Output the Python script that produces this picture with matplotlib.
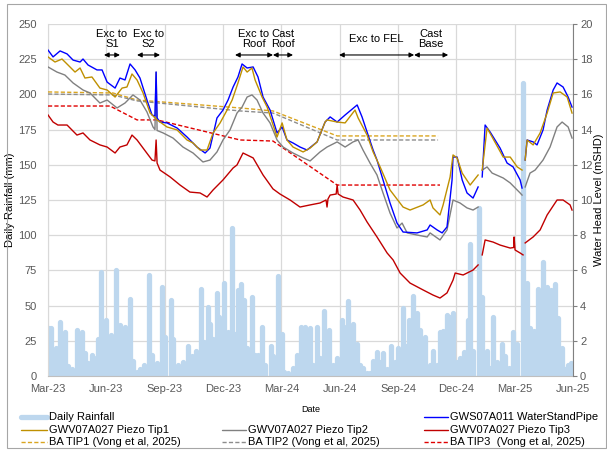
import numpy as np
import matplotlib
matplotlib.use("Agg")
import matplotlib.pyplot as plt
from matplotlib.lines import Line2D
from matplotlib.patches import Rectangle

plt.rcParams["font.family"] = ["Liberation Sans", "DejaVu Sans"]

nan = np.nan

# x positions are months since 1 Mar 2023
tick_labels = ["Mar-23", "Jun-23", "Sep-23", "Dec-23", "Mar-24", "Jun-24",
               "Sep-24", "Dec-24", "Mar-25", "Jun-25"]

# daily rainfall (mm)
rain_pts = [
    (0.05, 34), (0.15, 34), (0.41, 20), (0.62, 38), (0.87, 31), (1.03, 7), (1.23, 5), (1.49, 33),
    (1.75, 31), (1.90, 16), (2.06, 9), (2.26, 15), (2.47, 13), (2.57, 26), (2.73, 74), (2.98, 40),
    (3.24, 29), (3.50, 75), (3.70, 36), (3.96, 35), (4.22, 55), (4.37, 11), (4.58, 3), (4.73, 5),
    (4.94, 8), (5.20, 72), (5.35, 15), (5.61, 9), (5.86, 63), (6.02, 28), (6.33, 54), (6.43, 26),
    (6.69, 8), (6.94, 10), (7.20, 21), (7.41, 14), (7.61, 18), (7.87, 62), (8.02, 24), (8.23, 49),
    (8.33, 37), (8.49, 26), (8.69, 59), (8.80, 42), (9.05, 66), (9.26, 31), (9.47, 105), (9.62, 30),
    (9.77, 61), (9.93, 65), (10.08, 54), (10.24, 20), (10.49, 56), (10.65, 15), (10.80, 15),
    (11.01, 35), (11.16, 8), (11.47, 21), (11.57, 14), (11.83, 71), (12.04, 30), (12.14, 3),
    (12.35, 2), (12.60, 6), (12.81, 15), (13.01, 35), (13.22, 35), (13.48, 34), (13.63, 8),
    (13.84, 35), (13.99, 13), (14.20, 46), (14.35, 20), (14.45, 33), (14.66, 8), (14.87, 13),
    (15.12, 40), (15.23, 35), (15.43, 53), (15.69, 37), (15.90, 23), (16.05, 8), (16.20, 6),
    (16.41, 2), (16.56, 2), (16.72, 11), (16.92, 17), (17.08, 10), (17.23, 16), (17.44, 5),
    (17.64, 21), (17.85, 10), (18.00, 20), (18.26, 48), (18.42, 21), (18.57, 40), (18.78, 57),
    (18.98, 45), (19.14, 33), (19.39, 28), (19.65, 8), (19.80, 18), (20.01, 8), (20.16, 31),
    (20.32, 32), (20.52, 43), (20.68, 42), (20.83, 45), (21.04, 10), (21.19, 13), (21.40, 17),
    (21.60, 40), (21.71, 94), (21.86, 18), (22.17, 119), (22.33, 56), (22.58, 18), (22.74, 6),
    (22.89, 42), (23.10, 10), (23.35, 23), (23.51, 14), (23.71, 6), (23.92, 31), (24.13, 23),
    (24.43, 208), (24.64, 66), (24.79, 34), (25.00, 32), (25.21, 62), (25.46, 81), (25.67, 63),
    (25.87, 61), (26.08, 65), (26.23, 41), (26.44, 20), (26.59, 5), (26.75, 8), (26.90, 9),
]

# water head levels (mSHD)
wsp_pts = [
    (0.00, 18.52), (0.26, 18.13), (0.62, 18.47), (0.98, 18.30), (1.29, 17.95), (1.65, 17.84),
    (1.80, 18.01), (2.06, 17.67), (2.52, 17.39), (2.78, 17.39), (3.04, 16.70), (3.45, 16.36),
    (3.70, 16.93), (3.96, 16.82), (4.22, 17.73), (4.48, 17.39), (4.73, 16.93), (5.09, 15.68),
    (5.35, 14.83), (5.50, 14.77), (5.56, 17.27), (5.61, 14.66), (5.76, 14.43), (6.12, 14.38),
    (6.64, 14.09), (7.15, 13.58), (7.66, 13.01), (8.08, 12.67), (8.33, 12.95), (8.69, 14.66),
    (9.00, 15.11), (9.26, 15.68), (9.52, 16.42), (9.77, 16.99), (9.98, 17.73), (10.24, 17.50),
    (10.55, 17.56), (10.80, 16.99), (11.06, 15.85), (11.42, 15.11), (11.78, 13.81), (12.04, 14.15),
    (12.29, 13.41), (12.60, 13.24), (12.96, 13.01), (13.32, 12.84), (13.84, 13.30), (14.25, 14.43),
    (14.51, 14.72), (14.87, 14.43), (15.28, 14.83), (15.90, 15.40), (16.15, 14.72), (16.41, 13.86),
    (16.72, 12.84), (16.92, 12.27), (17.23, 11.14), (17.59, 9.83), (17.95, 8.69), (18.26, 8.18),
    (18.98, 8.13), (19.50, 8.30), (19.65, 8.58), (20.01, 8.30), (20.27, 8.13), (20.52, 8.47),
    (20.78, 11.14), (20.83, 12.44), (21.04, 12.44), (21.30, 11.14), (21.55, 10.40), (21.86, 10.11),
    (22.12, 10.74), (22.22, nan), (22.33, 11.31), (22.48, 14.26), (22.74, 13.86), (23.25, 12.95),
    (23.61, 12.10), (23.92, 11.88), (24.28, 11.14), (24.38, 10.68), (24.46, nan), (24.54, 12.27),
    (24.64, 13.41), (24.95, 13.30), (25.15, 13.13), (25.46, 13.98), (25.67, 15.11), (25.98, 16.25),
    (26.18, 16.65), (26.49, 16.42), (26.75, 15.85), (26.95, 15.28),
]

tip1_pts = [
    (0.00, 18.13), (0.36, 17.84), (0.72, 18.01), (1.03, 17.67), (1.39, 17.27), (1.65, 17.50),
    (1.90, 16.93), (2.26, 16.99), (2.67, 16.36), (3.04, 16.25), (3.45, 15.85), (3.81, 16.36),
    (4.06, 16.42), (4.32, 17.16), (4.58, 16.82), (4.89, 16.08), (5.25, 14.94), (5.61, 14.55),
    (6.12, 14.15), (6.64, 13.98), (7.15, 13.41), (7.46, 13.24), (7.82, 12.84), (8.18, 12.84),
    (8.49, 13.81), (8.85, 14.38), (9.21, 15.11), (9.47, 15.68), (9.77, 16.65), (10.03, 17.56),
    (10.24, 17.27), (10.49, 17.50), (10.65, 16.82), (11.01, 15.85), (11.27, 15.28), (11.78, 13.58),
    (12.04, 14.38), (12.29, 13.41), (12.60, 13.01), (13.12, 12.73), (13.48, 12.95), (13.84, 13.30),
    (14.25, 14.43), (14.35, 14.55), (14.87, 14.43), (15.28, 14.38), (15.79, 15.11), (15.95, 14.66),
    (16.41, 13.69), (16.72, 12.73), (17.08, 11.88), (17.59, 10.57), (18.26, 9.60), (18.62, 9.43),
    (19.29, 9.72), (19.65, 10.00), (19.80, 9.55), (20.16, 9.15), (20.32, 9.72), (20.68, 11.31),
    (20.83, 12.56), (21.04, 12.39), (21.30, 11.53), (21.71, 10.85), (22.12, 11.42), (22.22, nan),
    (22.33, 11.70), (22.58, 14.09), (22.84, 13.58), (23.41, 12.44), (23.77, 12.44), (24.13, 11.88),
    (24.38, 11.70), (24.46, nan), (24.54, 12.27), (24.64, 13.41), (24.95, 13.13), (25.31, 13.81),
    (25.67, 14.94), (25.98, 16.08), (26.34, 16.14), (26.70, 15.85), (26.95, 14.94),
]

tip2_pts = [
    (0.00, 17.56), (0.46, 17.27), (0.87, 17.10), (1.29, 16.65), (1.80, 16.25), (2.16, 16.08),
    (2.67, 15.51), (3.04, 15.68), (3.55, 15.23), (3.96, 15.51), (4.37, 15.97), (4.73, 15.68),
    (5.09, 15.00), (5.40, 14.15), (5.50, 14.00), (5.56, 17.27), (5.61, 13.95), (5.92, 13.81),
    (6.43, 13.52), (6.94, 13.01), (7.46, 12.67), (7.97, 12.16), (8.33, 12.27), (8.69, 12.73),
    (9.00, 13.41), (9.36, 13.98), (9.72, 14.94), (9.98, 15.28), (10.24, 15.85), (10.49, 15.97),
    (10.75, 15.68), (11.06, 14.94), (11.42, 14.38), (11.78, 13.41), (12.09, 13.01), (12.60, 12.67),
    (13.12, 12.39), (13.48, 12.22), (13.99, 12.73), (14.35, 13.01), (14.87, 13.30), (15.28, 13.01),
    (15.69, 13.30), (15.95, 13.41), (16.20, 12.84), (16.56, 12.10), (16.92, 11.42), (17.23, 10.40),
    (17.59, 9.26), (17.95, 8.41), (18.21, 8.69), (18.47, 8.13), (18.98, 8.01), (19.50, 7.90),
    (19.65, 8.13), (20.16, 7.73), (20.52, 8.30), (20.83, 10.00), (21.19, 9.83), (21.55, 9.55),
    (21.86, 9.43), (22.12, 9.60), (22.22, nan), (22.33, 11.70), (22.58, 11.88), (22.84, 11.53),
    (23.41, 11.25), (23.77, 10.97), (24.28, 10.40), (24.38, 10.28), (24.46, nan), (24.54, 10.74),
    (24.79, 11.53), (25.05, 11.70), (25.46, 12.27), (25.82, 13.01), (26.18, 14.15), (26.44, 14.43),
    (26.75, 14.15), (26.95, 13.52),
]

tip3_pts = [
    (0.00, 14.83), (0.26, 14.43), (0.51, 14.26), (0.98, 14.26), (1.49, 13.69), (1.80, 13.81),
    (2.16, 13.41), (2.67, 13.13), (3.04, 13.01), (3.45, 12.67), (3.70, 13.01), (4.06, 13.13),
    (4.32, 13.69), (4.58, 13.41), (4.89, 12.95), (5.35, 12.27), (5.50, 12.22), (5.56, 13.41),
    (5.61, 12.10), (5.76, 11.70), (6.28, 11.31), (6.79, 10.85), (7.30, 10.45), (7.82, 10.40),
    (8.18, 10.17), (8.49, 10.57), (9.00, 11.14), (9.52, 11.82), (9.72, 11.99), (10.03, 12.67),
    (10.55, 12.39), (11.06, 11.42), (11.57, 10.63), (11.93, 10.34), (12.45, 10.00), (12.96, 9.60),
    (13.48, 9.72), (13.99, 9.83), (14.30, 10.00), (14.35, 9.60), (14.40, 10.06), (14.51, 10.28),
    (14.82, 10.34), (14.87, 10.85), (14.92, 10.34), (15.17, 10.17), (15.69, 10.00), (16.05, 9.43),
    (16.41, 8.75), (16.92, 7.90), (17.44, 6.99), (17.75, 6.59), (18.11, 5.85), (18.62, 5.28),
    (19.29, 4.89), (19.80, 4.60), (20.16, 4.43), (20.52, 4.72), (20.83, 5.45), (20.94, 5.85),
    (21.35, 5.74), (21.86, 6.02), (22.12, 6.31), (22.22, nan), (22.33, 6.88), (22.48, 7.73),
    (22.89, 7.61), (23.25, 7.44), (23.77, 7.27), (23.95, 7.30), (23.97, 7.90), (24.02, 7.16),
    (24.28, 6.99), (24.43, 6.88), (24.48, nan), (24.54, 7.56), (24.95, 7.90), (25.31, 8.30),
    (25.67, 9.15), (26.18, 10.00), (26.49, 10.00), (26.85, 9.72), (26.95, 9.43),
]

# back-analysis (Vong et al, 2025)
ba1_pts = [(0.00, 16.14), (3.34, 16.08), (4.58, 15.68), (9.88, 15.23), (11.57, 15.06),
           (14.87, 13.64), (20.06, 13.64)]
ba2_pts = [(0.00, 16.02), (3.34, 15.97), (4.58, 15.63), (9.88, 15.06), (11.57, 14.94),
           (14.87, 13.41), (20.06, 13.41)]
ba3_pts = [(0.00, 15.34), (3.19, 15.34), (4.58, 14.55), (5.61, 14.55), (9.88, 13.41),
           (11.57, 13.35), (14.87, 10.85), (20.16, 10.85)]

phase_labels = ["Exc to\nS1", "Exc to\nS2", "Exc to\nRoof", "Cast\nRoof", "Exc to FEL", "Cast\nBase"]
phase_start = [2.88, 4.58, 9.62, 11.57, 14.97, 18.83]
phase_end = [3.70, 5.76, 11.57, 12.60, 18.83, 20.58]

C_RAIN = "#BDD7EE"
C_WSP = "#0000FF"
C_TIP1 = "#BF9000"
C_TIP2 = "#808080"
C_TIP3 = "#C00000"
C_BA1 = "#DAA520"
C_BA2 = "#8C8C8C"
C_BA3 = "#E00000"
TICK_C = "#595959"

W, H = 607, 450
fig = plt.figure(figsize=(W / 100, H / 100), dpi=100)
ax = fig.add_axes([48 / W, 1 - 376 / H, 525 / W, 352 / H])
ax2 = ax.twinx()


def xy(pts):
    a = np.array(pts, dtype=float)
    return a[:, 0], a[:, 1]


# rainfall: thick daily spikes, Excel style
rt, rv = xy(rain_pts)
rain_lc = ax.vlines(rt, 0, rv, color=C_RAIN, lw=3.8, zorder=2)
rain_lc.set_capstyle("round")

dash = (0, (3, 1.6))
for pts, col, ls in [(ba1_pts, C_BA1, dash), (ba2_pts, C_BA2, dash), (ba3_pts, C_BA3, dash),
                     (tip3_pts, C_TIP3, "-"), (tip2_pts, C_TIP2, "-"),
                     (wsp_pts, C_WSP, "-"), (tip1_pts, C_TIP1, "-")]:
    t, v = xy(pts)
    ax2.plot(t, v, color=col, lw=1.0, ls=ls)

ax.set_xlim(0, 27)
ax.set_ylim(0, 250)
ax2.set_ylim(0, 20)
ax.set_xticks(np.arange(0, 28, 3))
ax.set_xticklabels(tick_labels)
ax.set_yticks(np.arange(0, 251, 25))
ax2.set_yticks(np.arange(0, 21, 2))

ax.grid(True, color="#D9D9D9", lw=0.9)
ax.set_axisbelow(True)
ax.tick_params(axis="x", length=0, pad=6, labelsize=8, labelcolor=TICK_C)
ax.tick_params(axis="y", length=0, pad=8, labelsize=8, labelcolor=TICK_C)
ax2.tick_params(axis="y", length=3, width=0.8, color="#808080", pad=2, labelsize=8, labelcolor=TICK_C)

ax.spines["top"].set_visible(False)
ax2.spines["top"].set_visible(False)
ax.spines["left"].set_color("#D9D9D9")
ax.spines["bottom"].set_color("#BFBFBF")
ax.spines["right"].set_visible(False)
ax2.spines["left"].set_visible(False)
ax2.spines["bottom"].set_visible(False)
ax2.spines["right"].set_color("#808080")

ax.set_ylabel("Daily Rainfall (mm)", fontsize=8)
ax.yaxis.set_label_coords(-33 / 525, 0.5)
ax2.set_ylabel("Water Head Level (mSHD)", fontsize=8)
ax2.yaxis.set_label_coords(546 / 525, 0.5)
ax.set_xlabel("Date", fontsize=6.5)
ax.xaxis.set_label_coords(0.5, -29 / 352)

# construction stage arrows
for lab, s, e in zip(phase_labels, phase_start, phase_end):
    ax.annotate("", xy=(e, 228), xytext=(s, 228),
                arrowprops=dict(arrowstyle="<|-|>", color="black", lw=0.8,
                                mutation_scale=7, shrinkA=0, shrinkB=0))
    ax.text((s + e) / 2, 239.5, lab, ha="center", va="center", fontsize=8, linespacing=1.05)

# legend drawn by hand to keep the Excel layout
leg_rows = [417, 430, 442]
leg_cols = [(21, 47), (222, 246), (424, 448)]
entries = [
    (0, 0, "Daily Rainfall", C_RAIN, "-", 3.8),
    (0, 2, "GWS07A011 WaterStandPipe", C_WSP, "-", 1.0),
    (1, 0, "GWV07A027 Piezo Tip1", C_TIP1, "-", 1.0),
    (1, 1, "GWV07A027 Piezo Tip2", C_TIP2, "-", 1.0),
    (1, 2, "GWV07A027 Piezo Tip3", C_TIP3, "-", 1.0),
    (2, 0, "BA TIP1 (Vong et al, 2025)", C_BA1, dash, 1.0),
    (2, 1, "BA TIP2 (Vong et al, 2025)", C_BA2, dash, 1.0),
    (2, 2, "BA TIP3  (Vong et al, 2025)", C_BA3, dash, 1.0),
]
for r, c, lab, col, ls, lw in entries:
    x0, x1 = leg_cols[c]
    y = 1 - leg_rows[r] / H
    fig.add_artist(Line2D([x0 / W, x1 / W], [y, y], transform=fig.transFigure, color=col,
                          ls=ls, lw=lw, solid_capstyle="round"))
    fig.text((x1 + 2) / W, y, lab, ha="left", va="center", fontsize=8)

fig.add_artist(Rectangle((7 / W, 1 - 448 / H), 599 / W, 444 / H, transform=fig.transFigure,
                         fill=False, edgecolor="#A6A6A6", lw=0.8))

fig.savefig("out.png", dpi=100)
